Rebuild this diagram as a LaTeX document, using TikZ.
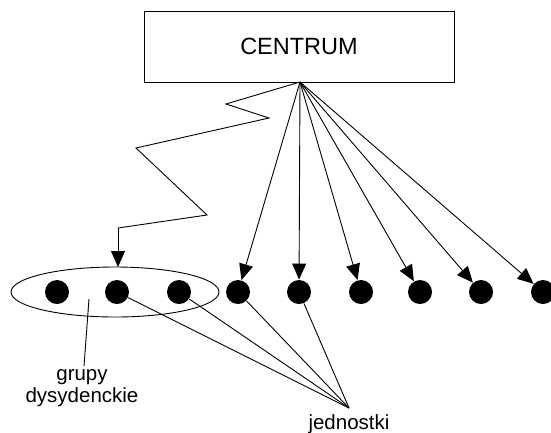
\documentclass[tikz,border=0pt]{standalone}
\usepackage{fontspec}
\setmainfont{Liberation Sans}
\usetikzlibrary{arrows.meta,shapes.geometric}
\begin{document}
\begin{tikzpicture}[x=1pt,y=-1pt,
  line width=0.9pt,
  dot/.style={circle,fill=black,inner sep=0pt,minimum size=24pt},
  arr/.style={-{Triangle[length=16pt,width=14pt]}},
  lbl/.style={font=\fontsize{20.5}{22}\selectfont,align=center,inner sep=0pt}]
\useasboundingbox (0,0) rectangle (551,432);
\node[draw,minimum width=310pt,minimum height=71pt,inner sep=0pt,font=\fontsize{23.5}{26}\selectfont] (centrum) at (299,46.5) {CENTRUM};
\coordinate (apex) at (300,82);
\node[draw,ellipse,minimum width=208pt,minimum height=50pt,inner sep=0pt] (group) at (115,292) {};
\node[dot] (d1) at (57,292) {};
\node[dot] (d2) at (117,292) {};
\node[dot] (d3) at (179,292) {};
\node[dot] (d4) at (238,292) {};
\node[dot] (d5) at (299,292) {};
\node[dot] (d6) at (361,292) {};
\node[dot] (d7) at (420,292) {};
\node[dot] (d8) at (481,292) {};
\node[dot] (d9) at (543,292) {};
% zigzag
\coordinate (z1) at (226,104);
\coordinate (z2) at (269,118);
\coordinate (z3) at (136,148);
\coordinate (z4) at (207,215);
\coordinate (z5) at (118,228);
\coordinate (gtop) at (118,267);
\draw (apex) -- (z1) -- (z2) -- (z3) -- (z4) -- (z5);
\draw[arr] (z5) -- (gtop);
% arrows
\foreach \d in {d4,d5,d6,d7,d8,d9} \draw[arr] (apex) -- (\d);
% labels
\coordinate (J) at (349,408);
\foreach \d in {d2,d3,d4,d5} \draw (\d) -- (J);
\node[lbl,anchor=base] (jed) at (349,429) {jednostki};
\coordinate (gin) at (89,299);
\node[lbl] (grupy) at (82,388) {grupy\\dysydenckie};
\draw (gin) -- (84,366);
\end{tikzpicture}
\end{document}
